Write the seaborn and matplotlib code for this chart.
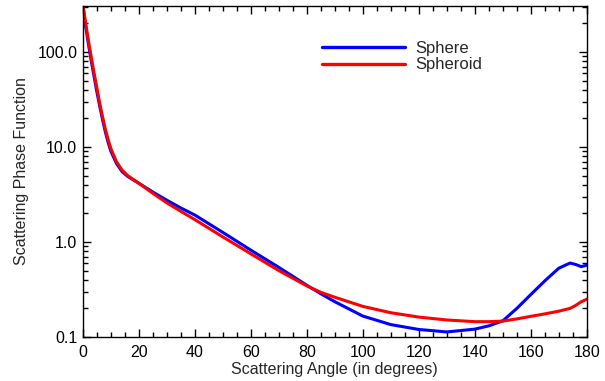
import matplotlib
matplotlib.use("Agg")
import matplotlib.pyplot as plt
import matplotlib.ticker as mticker
import seaborn as sns
import pandas as pd

angles = [0, 1, 2, 3, 4, 5, 6, 7, 8, 9, 10, 12, 14, 16, 18, 20, 25, 30, 35, 40,
          50, 60, 70, 80, 85, 90, 100, 110, 120, 130, 140, 145, 150, 155, 160,
          165, 170, 174, 176, 178, 180]
sphere = [300, 185, 120, 80, 55, 38, 27, 19.5, 14.5, 11.2, 9.0, 6.7, 5.5, 4.9, 4.5,
          4.15, 3.35, 2.75, 2.28, 1.92, 1.26, 0.82, 0.54, 0.35, 0.285, 0.235,
          0.166, 0.135, 0.12, 0.113, 0.121, 0.131, 0.148, 0.2, 0.28, 0.39, 0.53,
          0.6, 0.58, 0.55, 0.57]
spheroid = [320, 200, 130, 88, 60, 42, 29, 21, 15.5, 12.0, 9.6, 7.0, 5.7, 5.0, 4.55,
            4.15, 3.25, 2.58, 2.1, 1.72, 1.13, 0.75, 0.5, 0.345, 0.295, 0.262,
            0.21, 0.18, 0.162, 0.151, 0.145, 0.145, 0.147, 0.155, 0.165, 0.175,
            0.187, 0.2, 0.215, 0.235, 0.25]
labels = ["Sphere", "Spheroid"]
colors = ["#0000ff", "#ff0000"]

sns.set_style("ticks")
plt.rcParams["font.family"] = ["Liberation Sans", "DejaVu Sans"]
FS = 11.5

df = pd.concat([
    pd.DataFrame({"angle": angles, "value": sphere, "series": labels[0]}),
    pd.DataFrame({"angle": angles, "value": spheroid, "series": labels[1]}),
])

fig = plt.figure(figsize=(6.05, 3.81), dpi=100)
ax = fig.add_axes([0.137, 0.1155, 0.833, 0.869])
sns.lineplot(data=df, x="angle", y="value", hue="series", palette=colors,
             linewidth=2.2, ax=ax, sort=False, estimator=None)
ax.set_yscale("log")
ax.set_xlim(0, 180)
ax.set_ylim(0.1, 305)
ax.xaxis.set_major_locator(mticker.MultipleLocator(20))
ax.xaxis.set_minor_locator(mticker.MultipleLocator(5))
ax.yaxis.set_major_locator(mticker.LogLocator(base=10))
ax.yaxis.set_minor_locator(mticker.LogLocator(base=10, subs=range(2, 10)))
ax.yaxis.set_major_formatter(mticker.FuncFormatter(lambda v, p: f"{v:.1f}"))
ax.yaxis.set_minor_formatter(mticker.NullFormatter())
ax.tick_params(which="both", direction="in", top=True, right=True,
               labelsize=FS, colors="black", width=1)
ax.tick_params(which="major", length=6, pad=4)
ax.tick_params(axis="x", which="major", pad=6)
ax.tick_params(which="minor", length=3.5)
for s in ax.spines.values():
    s.set_linewidth(1)
    s.set_color("black")
ax.set_xlabel("Scattering Angle (in degrees)", fontsize=FS, labelpad=1)
ax.set_ylabel("Scattering Phase Function", fontsize=FS, labelpad=6)
leg = ax.legend(loc="upper left", bbox_to_anchor=(0.445, 0.94), frameon=False,
                fontsize=12, handlelength=5.0, handletextpad=0.6,
                labelspacing=0.1)
for line in leg.get_lines():
    line.set_linewidth(2.4)
fig.savefig("out.png", dpi=100)
